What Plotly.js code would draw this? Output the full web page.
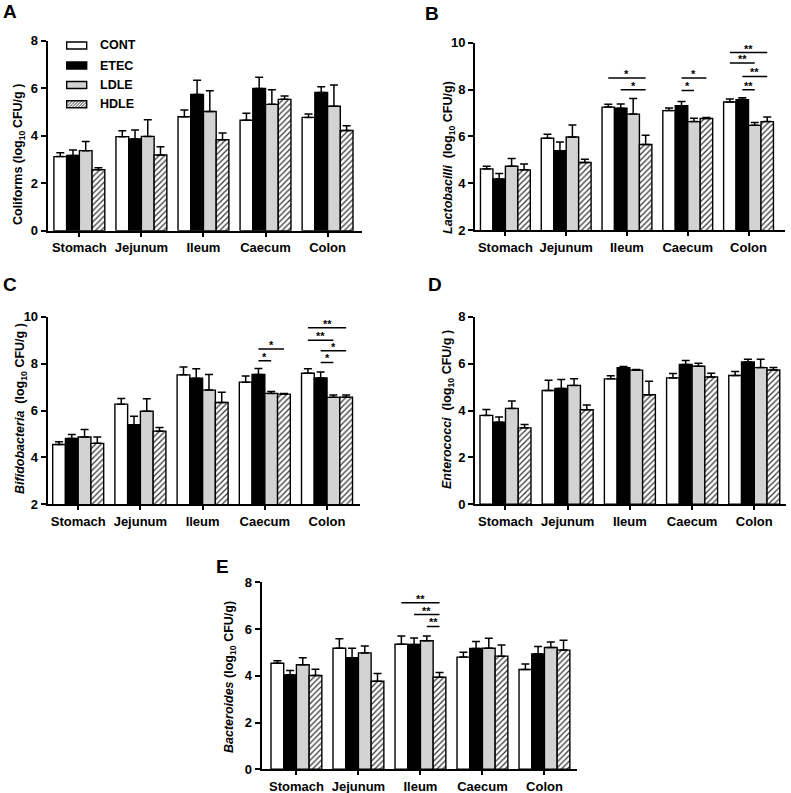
<!DOCTYPE html>
<html>
<head>
<meta charset="utf-8">
<script src="https://cdn.plot.ly/plotly-3.0.1.min.js"></script>
<style>html,body{margin:0;padding:0;background:#fff;}#chart{width:791px;height:793px;}</style>
</head>
<body>
<div id="chart"></div>
<script>
// ---------- DATA ----------
const CATEGORIES = ['Stomach', 'Jejunum', 'Ileum', 'Caecum', 'Colon'];
const SERIES = ['CONT', 'ETEC', 'LDLE', 'HDLE'];

// rows: CONT, ETEC, LDLE, HDLE ; columns follow CATEGORIES
const COLIFORMS_MEAN = [
  [3.12, 3.96, 4.80, 4.65, 4.77],
  [3.17, 3.86, 5.74, 5.99, 5.82],
  [3.37, 3.97, 5.02, 5.32, 5.24],
  [2.57, 3.19, 3.83, 5.53, 4.22]
];
const COLIFORMS_SEM = [
  [0.16, 0.25, 0.28, 0.30, 0.14],
  [0.23, 0.38, 0.59, 0.47, 0.24],
  [0.39, 0.70, 0.87, 0.62, 0.90],
  [0.08, 0.35, 0.28, 0.14, 0.20]
];
const COLIFORMS_SIG = [];

const LACTOBACILLI_MEAN = [
  [4.61, 5.92, 7.25, 7.10, 7.47],
  [4.18, 5.39, 7.20, 7.31, 7.57],
  [4.72, 5.97, 6.95, 6.63, 6.47],
  [4.57, 4.88, 5.65, 6.76, 6.63]
];
const LACTOBACILLI_SEM = [
  [0.11, 0.17, 0.12, 0.11, 0.12],
  [0.23, 0.37, 0.18, 0.18, 0.08],
  [0.33, 0.52, 0.67, 0.14, 0.12],
  [0.25, 0.14, 0.40, 0.04, 0.20]
];
// [category index, from series, to series, level, label]
const LACTOBACILLI_SIG = [
  [2, 0, 3, 8.49, '*'], [2, 1, 3, 7.99, '*'],
  [3, 1, 3, 8.49, '*'], [3, 1, 2, 7.96, '*'],
  [4, 0, 3, 9.58, '**'], [4, 0, 2, 9.13, '**'], [4, 1, 3, 8.56, '**'], [4, 1, 2, 7.99, '**']
];

const BIFIDOBACTERIA_MEAN = [
  [4.55, 6.27, 7.52, 7.21, 7.59],
  [4.81, 5.39, 7.38, 7.54, 7.39],
  [4.87, 5.97, 6.87, 6.73, 6.56],
  [4.60, 5.12, 6.34, 6.70, 6.57]
];
const BIFIDOBACTERIA_SEM = [
  [0.12, 0.24, 0.33, 0.26, 0.19],
  [0.17, 0.37, 0.40, 0.25, 0.25],
  [0.32, 0.53, 0.67, 0.08, 0.10],
  [0.27, 0.16, 0.44, 0.03, 0.09]
];
const BIFIDOBACTERIA_SIG = [
  [3, 1, 3, 8.62, '*'], [3, 1, 2, 8.12, '*'],
  [4, 0, 3, 9.53, '**'], [4, 0, 2, 9.00, '**'], [4, 1, 3, 8.55, '*'], [4, 1, 2, 8.05, '*']
];

const ENTEROCOCCI_MEAN = [
  [3.79, 4.85, 5.35, 5.39, 5.49],
  [3.50, 4.94, 5.82, 5.96, 6.07],
  [4.09, 5.07, 5.72, 5.89, 5.83],
  [3.26, 4.03, 4.67, 5.43, 5.73]
];
const ENTEROCOCCI_SEM = [
  [0.25, 0.44, 0.13, 0.19, 0.17],
  [0.22, 0.38, 0.06, 0.17, 0.12],
  [0.31, 0.28, 0.03, 0.13, 0.36],
  [0.14, 0.20, 0.58, 0.16, 0.10]
];
const ENTEROCOCCI_SIG = [];

const BACTEROIDES_MEAN = [
  [4.54, 5.18, 5.35, 4.80, 4.27],
  [4.04, 4.77, 5.34, 5.17, 4.94],
  [4.47, 4.98, 5.50, 5.18, 5.21],
  [4.01, 3.77, 3.94, 4.84, 5.10]
];
const BACTEROIDES_SEM = [
  [0.10, 0.40, 0.35, 0.21, 0.24],
  [0.19, 0.41, 0.28, 0.30, 0.31],
  [0.30, 0.30, 0.20, 0.43, 0.24],
  [0.27, 0.33, 0.20, 0.48, 0.42]
];
const BACTEROIDES_SIG = [
  [2, 0, 3, 7.13, '**'], [2, 1, 3, 6.62, '**'], [2, 2, 3, 6.11, '**']
];

// ---------- STYLE / LAYOUT ----------
const W = 791, H = 793;
const FONT = 'Liberation Sans, Arial, sans-serif';
const BARGAP = 0.18;
const BAR_W = (1 - BARGAP) / SERIES.length;
const FILL = ['#ffffff', '#000000', '#d3d3d3', '#ffffff'];
const px = v => v / W;
const py = v => 1 - v / H;

const PANELS = [
  {mean: COLIFORMS_MEAN, sem: COLIFORMS_SEM, sig: COLIFORMS_SIG,
   ax: [47.7, 361.7, 40.7, 230.7], xr: [-0.51, 4.55], yr: [0, 8],
   title: '<b>Coliforms (log<sub>10 </sub>CFU/g )</b>', t: [19, 155], letter: 'A', l: [10, 12]},
  {mean: LACTOBACILLI_MEAN, sem: LACTOBACILLI_SEM, sig: LACTOBACILLI_SIG,
   ax: [475, 785, 42.7, 230], xr: [-0.5, 4.6], yr: [2, 10],
   title: '<b><i>Lactobacilli</i>  (log<sub>10</sub> CFU/g)</b>', t: [449, 158], letter: 'B', l: [432, 13]},
  {mean: BIFIDOBACTERIA_MEAN, sem: BIFIDOBACTERIA_SEM, sig: BIFIDOBACTERIA_SIG,
   ax: [47.7, 360, 316.7, 504.3], xr: [-0.49, 4.53], yr: [2, 10],
   title: '<b><i>Bifidobacteria</i>  (log<sub>10</sub> CFU/g )</b>', t: [21, 409], letter: 'C', l: [10, 285]},
  {mean: ENTEROCOCCI_MEAN, sem: ENTEROCOCCI_SEM, sig: ENTEROCOCCI_SIG,
   ax: [475, 786, 316.7, 504.3], xr: [-0.49, 4.51], yr: [0, 8],
   title: '<b><i>Enterococci</i>  (log<sub>10</sub> CFU/g )</b>', t: [448, 410], letter: 'D', l: [435, 285]},
  {mean: BACTEROIDES_MEAN, sem: BACTEROIDES_SEM, sig: BACTEROIDES_SIG,
   ax: [261.7, 576.7, 582.3, 769.3], xr: [-0.56, 4.52], yr: [0, 8],
   title: '<b><i>Bacteroides</i> (log<sub>10</sub> CFU/g)</b>', t: [230, 677], letter: 'E', l: [222, 566]}
];

const traces = [];
const layout = {
  width: W, height: H,
  margin: {l: 0, r: 0, t: 0, b: 0},
  paper_bgcolor: '#ffffff', plot_bgcolor: 'rgba(0,0,0,0)',
  showlegend: false, barmode: 'group', bargap: BARGAP, bargroupgap: 0,
  font: {family: FONT, color: '#000'},
  shapes: [], annotations: []
};

PANELS.forEach((p, k) => {
  const n = k === 0 ? '' : String(k + 1);
  const xa = 'x' + n, ya = 'y' + n;
  SERIES.forEach((name, j) => {
    const tr = {
      type: 'bar', name: name, x: CATEGORIES, y: p.mean[j],
      xaxis: xa, yaxis: ya,
      marker: {color: FILL[j], line: {color: '#000', width: 1.4}},
      error_y: {type: 'data', symmetric: false, array: p.sem[j],
                arrayminus: p.sem[j].map(() => 0), color: '#000', thickness: 1.5, width: 4},
      hoverinfo: 'skip'
    };
    if (name === 'HDLE') {
      tr.marker.pattern = {shape: '/', fgcolor: '#333', bgcolor: '#ffffff', size: 4, solidity: 0.3, fillmode: 'replace'};
    }
    traces.push(tr);
  });
  const axCommon = {
    showline: true, linecolor: '#000', linewidth: 2, mirror: false,
    ticks: 'outside', ticklen: 5, tickwidth: 2, tickcolor: '#000',
    showgrid: false, zeroline: false, fixedrange: true,
    tickfont: {family: FONT, size: 13, weight: 'bold', color: '#000'}
  };
  layout['xaxis' + n] = Object.assign({}, axCommon, {
    anchor: ya, type: 'category', domain: [px(p.ax[0]), px(p.ax[1])],
    range: p.xr, ticklen: 4
  });
  layout['yaxis' + n] = Object.assign({}, axCommon, {
    anchor: xa, domain: [py(p.ax[3]), py(p.ax[2])],
    range: p.yr, tick0: 0, dtick: 2, ticklen: 5
  });
  // y-axis title
  layout.annotations.push({
    xref: 'paper', yref: 'paper', x: px(p.t[0]), y: py(p.t[1]),
    text: p.title, textangle: -90, showarrow: false,
    xanchor: 'center', yanchor: 'middle',
    font: {family: FONT, size: 12.5, color: '#000'}
  });
  // panel letter
  layout.annotations.push({
    xref: 'paper', yref: 'paper', x: px(p.l[0]), y: py(p.l[1]),
    text: '<b>' + p.letter + '</b>', showarrow: false,
    xanchor: 'center', yanchor: 'middle',
    font: {family: FONT, size: 19, color: '#000'}
  });
  // significance bars
  p.sig.forEach(s => {
    const [ci, a, b, lvl, lab] = s;
    const x0 = ci + (a - 1.5) * BAR_W, x1 = ci + (b - 1.5) * BAR_W;
    layout.shapes.push({type: 'line', xref: xa, yref: ya, x0: x0, x1: x1, y0: lvl, y1: lvl,
                        line: {color: '#000', width: 1.5}});
    layout.annotations.push({xref: xa, yref: ya, x: (x0 + x1) / 2, y: lvl, text: '<b>' + lab + '</b>',
                             showarrow: false, xanchor: 'center', yanchor: 'bottom', yshift: -4,
                             font: {family: FONT, size: 11, color: '#000'}});
  });
});

// ---------- custom legend in panel A ----------
const LEG_X0 = 66.7, LEG_X1 = 86.7, LEG_H = 7, LEG_Y = [45.5, 65.5, 85, 104.3], LEG_TX = 98;
SERIES.forEach((name, j) => {
  const yc = LEG_Y[j];
  layout.shapes.push({type: 'rect', xref: 'paper', yref: 'paper',
    x0: px(LEG_X0), x1: px(LEG_X1), y0: py(yc + LEG_H / 2), y1: py(yc - LEG_H / 2),
    fillcolor: FILL[j], line: {color: '#000', width: 1.4}});
  if (name === 'HDLE') {
    let path = '';
    const top = yc - LEG_H / 2, bot = yc + LEG_H / 2, step = 3;
    for (let s = LEG_X0 - LEG_H; s < LEG_X1; s += step) {
      // line from (s, bot) to (s+LEG_H, top), clipped to box
      let xa = s, ya = bot, xb = s + LEG_H, yb = top;
      if (xa < LEG_X0) { ya = bot - (LEG_X0 - xa); xa = LEG_X0; }
      if (xb > LEG_X1) { yb = top + (xb - LEG_X1); xb = LEG_X1; }
      if (xb <= xa) continue;
      path += 'M' + px(xa) + ',' + py(ya) + 'L' + px(xb) + ',' + py(yb);
    }
    layout.shapes.push({type: 'path', xref: 'paper', yref: 'paper', path: path,
                        line: {color: '#333', width: 1}});
  }
  layout.annotations.push({xref: 'paper', yref: 'paper', x: px(LEG_TX), y: py(yc),
    text: '<b>' + name + '</b>', showarrow: false, xanchor: 'left', yanchor: 'middle',
    font: {family: FONT, size: 12.5, color: '#000'}});
});

Plotly.newPlot('chart', traces, layout, {staticPlot: true, displayModeBar: false});
</script>
</body>
</html>
